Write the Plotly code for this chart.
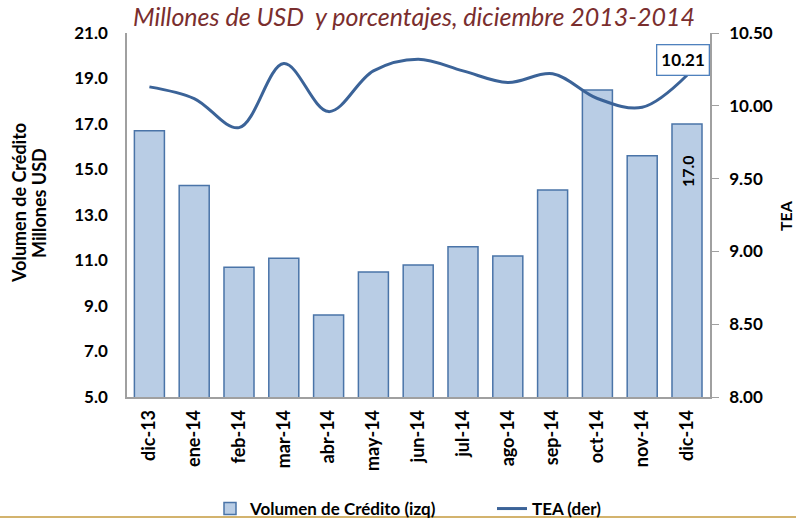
import plotly.graph_objects as go

categories = ["dic-13", "ene-14", "feb-14", "mar-14", "abr-14", "may-14", "jun-14",
              "jul-14", "ago-14", "sep-14", "oct-14", "nov-14", "dic-14"]
volumen = [16.7, 14.3, 10.7, 11.1, 8.6, 10.5, 10.8, 11.6, 11.2, 14.1, 18.5, 15.6, 17.0]
tea = [10.13, 10.05, 9.85, 10.29, 9.96, 10.24, 10.32, 10.24, 10.16, 10.22, 10.05, 9.99, 10.21]

W, H = 796, 519
L, R, T, B = 127, 86, 33, 122
pw = W - L - R
ph = H - T - B

def px_x(x):
    return (x - L) / pw

def px_y(y):
    return (H - B - y) / ph

font_family = "Lato, 'Open Sans', sans-serif"

fig = go.Figure()
fig.add_trace(go.Bar(
    x=categories, y=volumen, name="Volumen de Crédito (izq)",
    marker=dict(color="#B9CDE5", line=dict(color="#4A74A8", width=1.5)),
    width=0.67,
    yaxis="y",
))
fig.add_trace(go.Scatter(
    x=categories, y=tea, name="TEA (der)", mode="lines",
    line=dict(color="#3B6398", width=3, shape="spline", smoothing=1.0),
    yaxis="y2",
))

# data label on last bar
fig.add_annotation(
    x=categories[-1], y=volumen[-1], xref="x", yref="y",
    text=f"<b>{volumen[-1]:.1f}</b>", textangle=-90, showarrow=False,
    yshift=-47, font=dict(size=16, color="black", family=font_family),
)

# data label on last line point
fig.add_annotation(
    x=categories[-1], y=tea[-1], yref="y2", xref="x",
    text=f"<b>{tea[-1]:.2f}</b>", showarrow=False,
    xshift=-4, yshift=15,
    bgcolor="white", bordercolor="#4F81BD", borderwidth=1.3, borderpad=4,
    font=dict(size=17, color="black", family=font_family),
)

for xpx, line_txt in [(19, "Volumen de Crédito"), (39, "Millones USD")]:
    fig.add_annotation(
        xref="paper", yref="paper", x=px_x(xpx), y=px_y(203),
        xanchor="center", yanchor="middle",
        text=f"<b>{line_txt}</b>", textangle=-90,
        showarrow=False, font=dict(size=18, color="black", family=font_family),
    )
fig.add_annotation(
    xref="paper", yref="paper", x=px_x(785), y=px_y(216),
    xanchor="center", yanchor="middle",
    text="<b>TEA</b>", textangle=-90,
    showarrow=False, font=dict(size=16, color="black", family=font_family),
)

fig.add_shape(type="line", xref="paper", yref="paper",
              x0=px_x(0), x1=px_x(W), y0=px_y(517), y1=px_y(517),
              line=dict(color="#C49A3C", width=1.5))

fig.update_layout(
    width=W, height=H,
    margin=dict(l=L, r=R, t=T, b=B, autoexpand=False),
    paper_bgcolor="white", plot_bgcolor="white",
    title=dict(text="Millones de USD  y porcentajes, diciembre 2013-2014",
               x=414 / W, xanchor="center", y=1 - 17 / H, yanchor="middle",
               font=dict(size=25, color="#7A2E2E", family=font_family, style="italic")),
    xaxis=dict(
        tickangle=-90, showline=True, linecolor="#A0A0A0", linewidth=1.5,
        ticks="", showgrid=False, automargin=False, ticklabelstandoff=4,
        tickfont=dict(size=18, color="black", family=font_family, weight="bold"),
    ),
    yaxis=dict(
        range=[5, 21], tickvals=[5, 7, 9, 11, 13, 15, 17, 19, 21], tickformat=".1f",
        showline=True, linecolor="#A0A0A0", linewidth=1.5, showgrid=False,
        ticks="", zeroline=False, automargin=False, ticklabelstandoff=14,
        tickfont=dict(size=17, color="black", family=font_family, weight="bold"),
    ),
    yaxis2=dict(
        range=[8, 10.5], tickvals=[8, 8.5, 9, 9.5, 10, 10.5], tickformat=".2f",
        overlaying="y", side="right", automargin=False,
        showline=True, linecolor="#A0A0A0", linewidth=1.5, showgrid=False,
        ticks="outside", ticklen=7, tickcolor="#A0A0A0", zeroline=False,
        ticklabelstandoff=7,
        tickfont=dict(size=17, color="black", family=font_family, weight="bold"),
    ),
    legend=dict(orientation="h", x=px_x(210), xanchor="left", y=px_y(509), yanchor="middle",
                bgcolor="rgba(0,0,0,0)", entrywidth=237, entrywidthmode="pixels",
                font=dict(size=17, color="black", family=font_family, weight="bold"),
                traceorder="normal"),
    bargap=0.33,
)

fig.write_html("out.html", config={"displayModeBar": False},
               post_script="document.body.style.margin='0px';")
